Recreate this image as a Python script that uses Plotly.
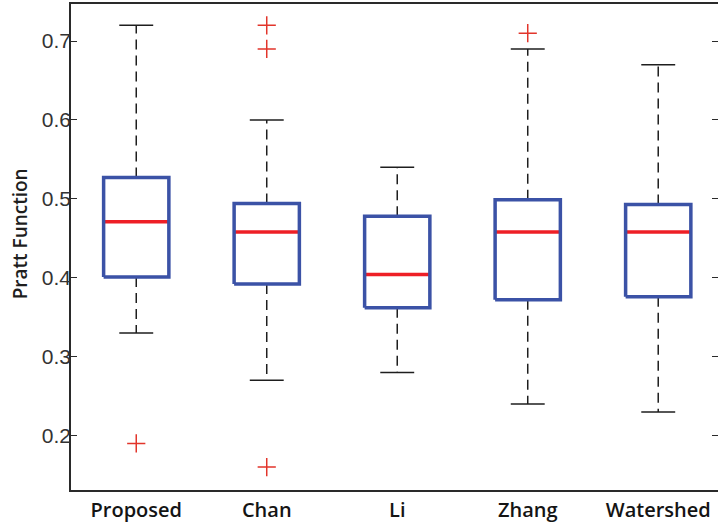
import plotly.graph_objects as go

# Summary statistics per segmentation method
methods = ["Proposed", "Chan", "Li", "Zhang", "Watershed"]
lower_whisker = [0.33, 0.27, 0.28, 0.24, 0.23]
q1 = [0.401, 0.392, 0.362, 0.372, 0.376]
median = [0.471, 0.458, 0.404, 0.458, 0.458]
q3 = [0.527, 0.494, 0.478, 0.499, 0.493]
upper_whisker = [0.72, 0.60, 0.54, 0.69, 0.67]

# Outlying observations
outlier_methods = ["Proposed", "Chan", "Chan", "Chan", "Zhang"]
outlier_values = [0.19, 0.72, 0.69, 0.16, 0.71]

y_ticks = [0.2, 0.3, 0.4, 0.5, 0.6, 0.7]

BOX_HALF = 0.25
CAP_HALF = 0.13
BLUE = "#3b52a6"
RED = "#ee1f26"
BLACK = "#1e1e1e"

pos = {m: i + 1 for i, m in enumerate(methods)}

wx, wy = [], []      # dashed whiskers
cx, cy = [], []      # whisker caps
bx, by = [], []      # box outlines
mx, my = [], []      # medians
for i, m in enumerate(methods):
    p = pos[m]
    wx += [p, p, None, p, p, None]
    wy += [q3[i], upper_whisker[i], None, q1[i], lower_whisker[i], None]
    cx += [p - CAP_HALF, p + CAP_HALF, None, p - CAP_HALF, p + CAP_HALF, None]
    cy += [upper_whisker[i], upper_whisker[i], None, lower_whisker[i], lower_whisker[i], None]
    bx += [p - BOX_HALF, p + BOX_HALF, p + BOX_HALF, p - BOX_HALF, p - BOX_HALF, None]
    by += [q1[i], q1[i], q3[i], q3[i], q1[i], None]
    mx += [p - BOX_HALF, p + BOX_HALF, None]
    my += [median[i], median[i], None]

fig = go.Figure()
fig.add_trace(go.Scatter(x=wx, y=wy, mode="lines",
                         line=dict(color=BLACK, width=1.5, dash="10px,6px")))
fig.add_trace(go.Scatter(x=cx, y=cy, mode="lines",
                         line=dict(color=BLACK, width=1.5)))
fig.add_trace(go.Scatter(x=mx, y=my, mode="lines",
                         line=dict(color=RED, width=3.5)))
fig.add_trace(go.Scatter(x=bx, y=by, mode="lines",
                         line=dict(color=BLUE, width=3.5)))
fig.add_trace(go.Scatter(x=[pos[m] for m in outlier_methods], y=outlier_values,
                         mode="markers",
                         marker=dict(symbol="cross-thin", size=13,
                                     line=dict(color="#e2352b", width=1.5))))
# carrier for the right-hand tick marks
fig.add_trace(go.Scatter(x=[None], y=[None], yaxis="y2", mode="markers"))

fig.update_layout(
    width=718, height=524,
    margin=dict(l=71, r=0, t=4, b=34),
    paper_bgcolor="white", plot_bgcolor="white",
    showlegend=False, hovermode=False,
    xaxis=dict(
        range=[0.5, 5.458], tickvals=[pos[m] for m in methods], ticktext=methods,
        showgrid=False, zeroline=False, ticks="",
        showline=True, linecolor="#2a2a2a", linewidth=1.5, mirror=True,
        tickfont=dict(family="Open Sans", size=20, color="#141414", weight=600),
        ticklabelstandoff=1,
    ),
    yaxis=dict(
        range=[0.131, 0.747], tickvals=y_ticks,
        ticktext=[f"{v:.1f}" for v in y_ticks],
        showgrid=False, zeroline=False,
        ticks="inside", ticklen=6, tickwidth=1, tickcolor="#2a2a2a",
        showline=True, linecolor="#2a2a2a", linewidth=1.5,
        tickfont=dict(family="Liberation Sans, Arial", size=21, color="#333333"),
        ticklabelstandoff=-6,
    ),
    yaxis2=dict(
        overlaying="y", side="right", matches="y", range=[0.131, 0.747],
        tickvals=y_ticks, showticklabels=False, showgrid=False, zeroline=False,
        ticks="inside", ticklen=6, tickwidth=1, tickcolor="#2a2a2a",
        showline=False,
    ),
    annotations=[dict(
        text="Pratt Function", xref="paper", yref="paper",
        x=0, xshift=-51, y=0.526, xanchor="center", yanchor="middle",
        textangle=-90, showarrow=False,
        font=dict(family="Open Sans", size=19, color="#1e1e1e", weight=600),
    )],
)

fig.write_html("out.html")
